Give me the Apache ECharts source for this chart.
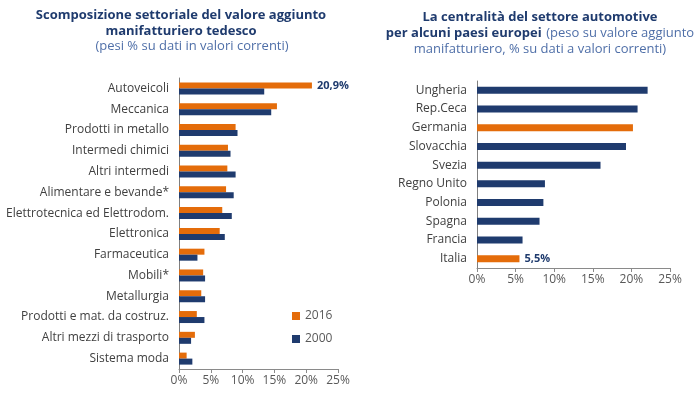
<!DOCTYPE html>
<html><head><meta charset="utf-8">
<script src="https://cdn.jsdelivr.net/npm/echarts@6/dist/echarts.min.js"></script>
<style>html,body{margin:0;padding:0;background:#fff}#c{width:700px;height:393px}</style>
</head><body><div id="c"></div>
<script>
const sectors = ['Autoveicoli','Meccanica','Prodotti in metallo','Intermedi chimici','Altri intermedi','Alimentare e bevande*','Elettrotecnica ed Elettrodom.','Elettronica','Farmaceutica','Mobili*','Metallurgia','Prodotti e mat. da costruz.','Altri mezzi di trasporto','Sistema moda'];
const v2016 = [20.9,15.4,8.9,7.7,7.6,7.4,6.8,6.4,4.0,3.8,3.5,2.8,2.5,1.2];
const v2000 = [13.4,14.5,9.2,8.1,8.9,8.6,8.3,7.2,2.9,4.1,4.1,4.0,1.9,2.1];
const countries = ['Ungheria','Rep.Ceca','Germania','Slovacchia','Svezia','Regno Unito','Polonia','Spagna','Francia','Italia'];
const autoShare = [22.1,20.8,20.2,19.3,16.0,8.8,8.6,8.1,5.9,5.5];
const highlighted = ['Germania','Italia'];
const xTicks = [0,5,10,15,20,25];

const ORANGE = '#E46C0A', NAVY = '#1F3B6E', FONT = 'Open Sans';
const chart = echarts.init(document.getElementById('c'));
const valueLabel = {show:true, position:'right', formatter: p => String(p.value).replace('.',',') + '%', color:'#1F3B6E', fontWeight:'bold', fontSize:11, fontFamily:FONT};

function xAxisCfg(gi){
  return {type:'value', gridIndex:gi, min:xTicks[0], max:xTicks[xTicks.length-1], interval:5,
    axisLine:{show:true, lineStyle:{color:'#8a8a8a'}}, axisTick:{show:true, length:4, lineStyle:{color:'#8a8a8a'}},
    splitLine:{show:false}, axisLabel:{formatter:'{value}%', color:'#595959', fontSize:12, fontFamily:FONT, margin:6}};
}
function yAxisCfg(gi, cats){
  return {type:'category', gridIndex:gi, data:cats, inverse:true,
    axisLine:{show:true, lineStyle:{color:'#7f7f7f'}}, axisTick:{show:false},
    axisLabel:{color:'#404040', fontSize:12, fontFamily:FONT, margin:10}};
}

chart.setOption({
  animation:false,
  textStyle:{fontFamily:FONT},
  title:[
    {text:'Scomposizione settoriale del valore aggiunto\nmanifatturiero tedesco', left:176, top:2, textAlign:'center',
      textStyle:{fontSize:13, fontWeight:'bold', color:'#1F3B6E', lineHeight:16, fontFamily:FONT}},
    {text:'(pesi % su dati in valori correnti)', left:187, top:35, textAlign:'center',
      textStyle:{fontSize:13, fontWeight:'normal', color:'#4F6FA8', fontFamily:FONT}},
    {text:'{b|La centralità del settore automotive}\n{b|per alcuni paesi europei} {n|(peso su valore aggiunto}\n{n|manifatturiero, % su dati a valori correnti)}',
      left:535, top:4, textAlign:'center',
      textStyle:{lineHeight:16, fontWeight:'normal', rich:{
        b:{fontSize:13, fontWeight:'bold', color:'#1F3B6E', fontFamily:FONT, lineHeight:16},
        n:{fontSize:13, fontWeight:'normal', color:'#4F6FA8', fontFamily:FONT, lineHeight:16}}}}
  ],
  legend:{data:['2016','2000'], orient:'vertical', left:287, top:305, itemWidth:8, itemHeight:8, itemGap:11,
    icon:'rect', textStyle:{color:'#595959', fontSize:12, fontFamily:FONT}},
  grid:[
    {left:179, top:78, width:159, height:291},
    {left:477, top:81, width:193, height:187}
  ],
  xAxis:[xAxisCfg(0), xAxisCfg(1)],
  yAxis:[yAxisCfg(0, sectors), yAxisCfg(1, countries)],
  series:[
    {name:'2016', type:'bar', xAxisIndex:0, yAxisIndex:0, barWidth:6, barGap:'0%', itemStyle:{color:ORANGE},
      data: v2016.map((v,i)=> i===0 ? {value:v, label:valueLabel} : v)},
    {name:'2000', type:'bar', xAxisIndex:0, yAxisIndex:0, barWidth:6, barGap:'0%', itemStyle:{color:NAVY}, data:v2000},
    {name:'auto', type:'bar', xAxisIndex:1, yAxisIndex:1, barWidth:7,
      data: autoShare.map((v,i)=>{
        const hl = highlighted.includes(countries[i]);
        const d = {value:v, itemStyle:{color: hl ? ORANGE : NAVY}};
        if (countries[i]==='Italia') d.label = valueLabel;
        return d;
      })}
  ]
});
</script></body></html>
